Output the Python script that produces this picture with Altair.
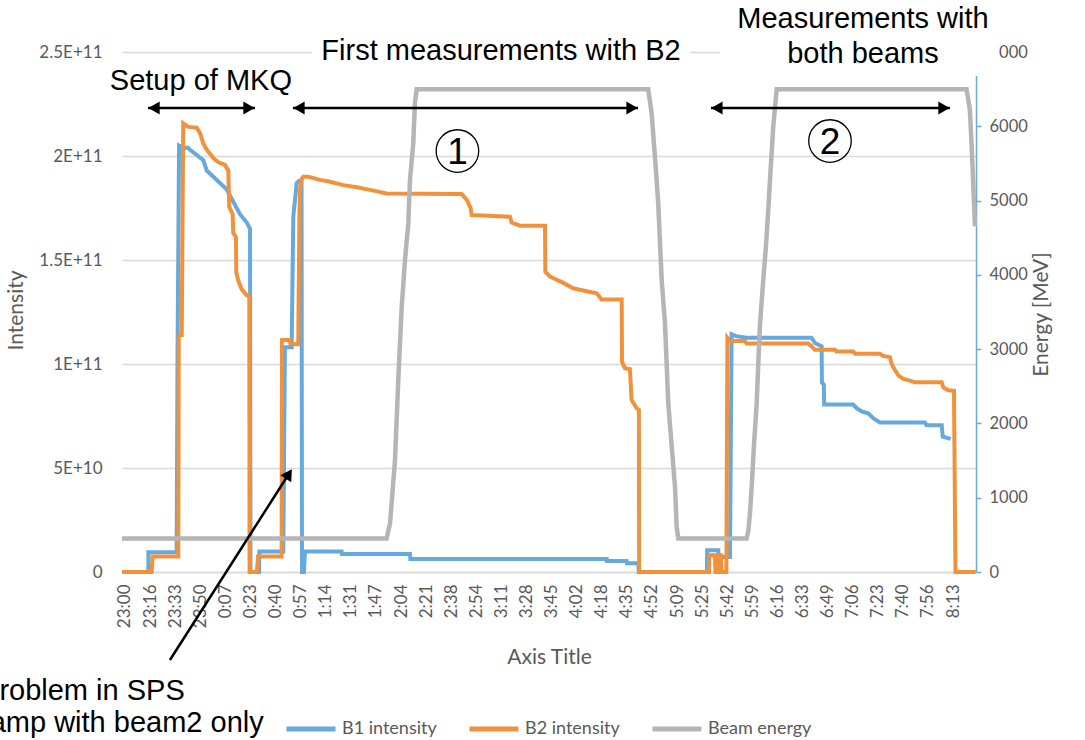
import json

import altair as alt
import pandas as pd

# ---------------------------------------------------------------- axes / text
TICK_LABELS = [
    "23:00", "23:16", "23:33", "23:50", "0:07", "0:23", "0:40", "0:57",
    "1:14", "1:31", "1:47", "2:04", "2:21", "2:38", "2:54", "3:11", "3:28",
    "3:45", "4:02", "4:18", "4:35", "4:52", "5:09", "5:25", "5:42", "5:59",
    "6:16", "6:33", "6:49", "7:06", "7:23", "7:40", "7:56", "8:13",
]
TICK_STEP = 553 / 33                      # minutes between category labels
INTENSITY_TICKS = [0, 5e10, 1e11, 1.5e11, 2e11, 2.5e11]
INTENSITY_LABELS = ["0", "5E+10", "1E+11", "1.5E+11", "2E+11", "2.5E+11"]
ENERGY_TICKS = [0, 1000, 2000, 3000, 4000, 5000, 6000, 7000]

SERIES = ["B1 intensity", "B2 intensity", "Beam energy"]
COLORS = ["#65A9DD", "#F2913B", "#B5B5B5"]
AXIS_TEXT = "#595959"
GRID = "#D9D9D9"

# ---------------------------------------------------------------- data
# time in minutes after 23:00, intensity in units of 1e10 protons
b1_minutes = [
    -2.0, 15.6, 15.6, 34.5, 35.1, 36.1, 38.7, 42.1, 43.4, 47.9, 52.3, 54.6,
    59.0, 63.4, 67.9, 72.3, 76.8, 81.3, 83.5, 83.8, 89.5, 89.7, 105.7, 106.8,
    111.3, 112.4, 114.7, 116.2, 117.9, 118.2, 119.5, 120.2, 144.7, 144.9,
    190.3, 190.6, 321.7, 321.8, 335.0, 335.2, 342.8, 343.1, 388.6, 388.8,
    396.2, 396.4, 404.0, 405.1, 408.0, 415.1, 458.5, 460.7, 465.2, 465.4,
    466.7, 466.9, 486.3, 488.6, 491.9, 496.3, 499.7, 504.1, 534.2, 535.3,
    545.4, 546.1, 551.4,
]
b1_e10 = [
    0, 0, 0.95, 0.95, 10.6, 20.5, 20.4, 20.4, 20.3, 20.05, 19.8, 19.3,
    19.0, 18.7, 18.4, 17.8, 17.2, 16.8, 16.5, 0, 0, 0.98, 0.98, 10.8,
    10.8, 17.1, 18.7, 18.8, 18.8, 0, 0, 0.98, 0.98, 0.87,
    0.87, 0.62, 0.62, 0.53, 0.53, 0.42, 0.42, 0, 0, 1.04,
    1.04, 0.72, 0.72, 11.43, 11.34, 11.26, 11.26, 11.01, 10.85, 9.12,
    9.0, 8.05, 8.05, 7.88, 7.72, 7.63, 7.39, 7.19, 7.19, 7.06,
    7.06, 6.51, 6.4,
]

b2_minutes = [
    -2.0, 17.8, 18.4, 35.6, 35.9, 37.9, 38.9, 40.1, 42.3, 47.9, 50.1, 52.3,
    54.6, 59.0, 62.3, 66.8, 69.0, 69.6, 71.9, 72.3, 74.1, 74.3, 75.7, 77.9,
    81.3, 83.0, 83.2, 88.1, 88.8, 104.6, 104.8, 110.2, 110.5, 115.7, 116.5,
    116.9, 117.9, 119.1, 122.4, 130.2, 136.9, 145.8, 154.7, 163.6, 174.7,
    224.8, 228.2, 230.8, 231.5, 257.1, 258.2, 263.8, 280.5, 280.7, 283.8,
    292.7, 299.3, 308.3, 315.0, 318.3, 331.7, 331.9, 333.9, 337.2, 338.3,
    341.7, 343.2, 343.4, 390.0, 390.2, 394.0, 394.3, 396.0, 396.3, 398.0,
    398.3, 401.6, 402.3, 404.0, 414.0, 415.1, 456.3, 458.5, 460.7, 474.1,
    475.2, 486.3, 487.5, 504.1, 506.3, 510.8, 511.9, 513.0, 516.4, 519.7,
    524.2, 527.5, 545.4, 546.5, 549.7, 553.6, 554.6, 568.2,
]
b2_e10 = [
    0, 0, 0.74, 0.74, 11.4, 11.4, 21.57, 21.5, 21.4, 21.36, 21.1, 20.6,
    20.3, 19.9, 19.7, 19.57, 19.3, 17.56, 17.2, 16.3, 16.1, 14.4, 14.0, 13.6,
    13.3, 13.25, 0, 0, 0.74, 0.74, 11.15, 11.15, 10.95, 10.95, 17.2,
    18.4, 18.9, 19.0, 19.0, 18.85, 18.76, 18.6, 18.5, 18.37, 18.2,
    18.17, 17.9, 17.5, 17.16, 17.08, 16.8, 16.65, 16.65, 14.44, 14.2,
    13.9, 13.64, 13.5, 13.4, 13.1, 13.1, 10.1, 9.8, 9.75, 8.27,
    7.87, 7.8, 0, 0, 0.8, 0.8, 0, 0, 0.8, 0.8,
    0, 0, 11.26, 11.1, 11.1, 10.98, 10.98, 10.85, 10.68, 10.68,
    10.6, 10.6, 10.49, 10.49, 10.39, 10.33, 10.02, 9.85, 9.45, 9.28,
    9.2, 9.12, 9.12, 8.87, 8.74, 8.71, 0, 0,
]

energy_minutes = [
    -2.0, 174.7, 177.0, 180.3, 182.5, 184.8, 187.0, 189.2, 190.3, 192.5,
    193.6, 194.8, 349.4, 351.7, 353.9, 356.1, 357.2, 358.4, 360.6, 361.7,
    362.8, 365.1, 367.3, 368.4, 369.5, 415.1, 416.2, 417.3, 418.5, 420.0,
    421.8, 422.9, 424.0, 425.8, 428.0, 429.6, 431.2, 432.9, 435.2, 562.0,
    564.2, 565.4, 566.4, 567.6,
]
energy_mev = [
    450, 450, 655, 1507, 2584, 3571, 4200, 4693, 5276, 5770,
    6309, 6500, 6500, 6174, 5590, 4963, 4469, 3930, 3348, 2809,
    2271, 1687, 1148, 610, 450, 450, 545, 775, 1145, 1699,
    2253, 2806, 3314, 3822, 4376, 4884, 5438, 5992, 6500, 6500,
    6222, 5738, 5253, 4653,
]


def series_frame(minutes, values, name, factor=1.0):
    return pd.DataFrame({
        "i": range(len(minutes)),
        "minutes": minutes,
        "value": [v * factor for v in values],
        "series": name,
    })


b1_df = series_frame(b1_minutes, b1_e10, SERIES[0], 1e10)
b2_df = series_frame(b2_minutes, b2_e10, SERIES[1], 1e10)
energy_df = series_frame(energy_minutes, energy_mev, SERIES[2])

# ---------------------------------------------------------------- annotations
# positions in chart units: minutes after 23:00, intensity (protons)
heading_df = pd.DataFrame({
    "text": ["Setup of MKQ", "First measurements with B2",
             "Measurements with", "both beams"],
    "minutes": [50.7, 251.1, 492.8, 492.8],
    "value": [2.317e11, 2.4615e11, 2.613e11, 2.447e11],
})
note_df = pd.DataFrame({
    "text": ["Problem in SPS", "ramp with beam2 only"],
    "minutes": [-96.8, -96.8],
    "value": [-6.154e10, -7.692e10],
})
box_df = pd.DataFrame({
    "x0": [124.9, 397.3], "x1": [377.3, 583.5],
    "y0": [2.4327e11, 2.385e11], "y1": [2.577e11, 2.75e11],
})
arrow_df = pd.DataFrame({
    "x0": [15.4, 112.2, 391.3, 30.0],
    "x1": [86.8, 342.6, 550.9, 109.4],
    "y0": [2.2308e11, 2.2308e11, 2.2308e11, -4.231e10],
    "y1": [2.2308e11, 2.2308e11, 2.2308e11, 4.712e10],
})
head_df = pd.DataFrame({
    "minutes": [19.4, 82.8, 116.2, 338.6, 395.3, 546.9, 109.4],
    "value": [2.2308e11] * 6 + [4.712e10],
    "shape": ["triangle-left", "triangle-right"] * 3 + ["triangle-up"],
    "angle": [0, 0, 0, 0, 0, 0, 33],
})
circle_df = pd.DataFrame({
    "label": ["1", "2"],
    "minutes": [222.0, 470.8],
    "value": [2.024e11, 2.072e11],
    "baseline_value": [1.9615e11, 2.0096e11],
})

# ---------------------------------------------------------------- scales
x_scale = alt.Scale(domain=[-2.0, 568.3], nice=False, zero=False)
left_scale = alt.Scale(domain=[0, 2.5e11], nice=False, zero=False)
right_scale = alt.Scale(domain=[0, 7000], nice=False, zero=False)
color_scale = alt.Scale(domain=SERIES, range=COLORS)

x_axis = alt.Axis(
    values=[i * TICK_STEP for i in range(len(TICK_LABELS))],
    labelExpr=f"{json.dumps(TICK_LABELS)}[round(datum.value / {TICK_STEP})]",
    labelAngle=270, labelAlign="right", labelBaseline="middle",
    labelPadding=12, labelOverlap=False, labelFlush=False,
    labelFont="Lato", labelFontSize=17, labelColor=AXIS_TEXT,
    ticks=False, tickSize=0, grid=False,
    domainColor=GRID, domainWidth=1.5,
    title="Axis Title", titleFont="Lato", titleFontSize=21,
    titleFontWeight="normal", titleColor=AXIS_TEXT,
    titleY=85, titleBaseline="middle",
)
left_axis = alt.Axis(
    values=INTENSITY_TICKS,
    labelExpr=f"{json.dumps(INTENSITY_LABELS)}[round(datum.value / 5e10)]",
    domain=False, ticks=False, tickSize=0, labelPadding=20,
    grid=True, gridColor=GRID, gridWidth=1.5,
    labelFont="Lato", labelFontSize=17, labelColor=AXIS_TEXT,
    title="Intensity", titleFont="Lato", titleFontSize=21,
    titleFontWeight="normal", titleColor=AXIS_TEXT,
    titleAngle=270, titleX=-106, titleY=258, titleBaseline="middle",
)
right_axis = alt.Axis(
    orient="right", values=ENERGY_TICKS, format="d",
    domainColor=COLORS[0], domainWidth=1.5,
    tickColor=COLORS[0], tickSize=5, tickWidth=1.5, labelPadding=8,
    grid=False,
    labelFont="Lato", labelFontSize=16.5, labelColor=AXIS_TEXT,
    title="Energy [MeV]", titleFont="Lato", titleFontSize=21,
    titleFontWeight="normal", titleColor=AXIS_TEXT,
    titleAngle=270, titleX=65, titleY=262, titleBaseline="middle",
)

color = alt.Color("series:N", scale=color_scale, legend=alt.Legend(title=None))
X = alt.X("minutes:Q", scale=x_scale, axis=x_axis)

# ---------------------------------------------------------------- layers
b1_line = alt.Chart(b1_df).mark_line(strokeWidth=4).encode(
    x=X, y=alt.Y("value:Q", scale=left_scale, axis=left_axis),
    color=color, order="i:Q",
)
b2_line = alt.Chart(b2_df).mark_line(strokeWidth=4).encode(
    x=X, y=alt.Y("value:Q", scale=left_scale, axis=left_axis),
    color=color, order="i:Q",
)
intensity = alt.layer(b1_line, b2_line)

energy = alt.Chart(energy_df).mark_line(strokeWidth=4.5).encode(
    x=X, y=alt.Y("value:Q", scale=right_scale, axis=right_axis),
    color=color, order="i:Q",
)

Y_ann = alt.Y("value:Q", scale=left_scale, axis=None)
font = "Liberation Sans"

boxes = alt.Chart(box_df).mark_rect(color="white").encode(
    x=alt.X("x0:Q", scale=x_scale, axis=x_axis), x2="x1:Q",
    y=alt.Y("y0:Q", scale=left_scale, axis=None), y2="y1:Q",
)
headings = alt.Chart(heading_df).mark_text(
    font=font, fontSize=29, align="center", baseline="alphabetic", color="black"
).encode(x=X, y=Y_ann, text="text:N")
notes = alt.Chart(note_df).mark_text(
    font=font, fontSize=29, align="left", baseline="alphabetic", color="black"
).encode(x=X, y=Y_ann, text="text:N")
arrows = alt.Chart(arrow_df).mark_rule(color="black", strokeWidth=2.5).encode(
    x=alt.X("x0:Q", scale=x_scale, axis=x_axis), x2="x1:Q",
    y=alt.Y("y0:Q", scale=left_scale, axis=None), y2="y1:Q",
)
heads = alt.Chart(head_df).mark_point(
    filled=True, color="black", size=170, opacity=1
).encode(
    x=X, y=Y_ann,
    shape=alt.Shape("shape:N", scale=None),
    angle=alt.Angle("angle:Q", scale=None),
)
circles = alt.Chart(circle_df).mark_point(
    shape="circle", size=1810, filled=False, color="black", strokeWidth=1.3,
    opacity=1,
).encode(x=X, y=Y_ann)
digits = alt.Chart(circle_df).mark_text(
    font=font, fontSize=37, align="center", baseline="alphabetic", color="black"
).encode(
    x=X, y=alt.Y("baseline_value:Q", scale=left_scale, axis=None), text="label:N"
)
annotations = alt.layer(boxes, headings, notes, arrows, heads, circles, digits)

chart = (
    alt.layer(intensity, energy, annotations)
    .resolve_scale(y="independent")
    .properties(
        width=854, height=520,
        autosize=alt.AutoSizeParams(type="none"),
        padding={"left": 122, "top": 52, "right": 109, "bottom": 168},
        background="white",
    )
    .configure_view(stroke=None)
    .configure_legend(
        orient="none", legendX=162, legendY=650, direction="horizontal",
        symbolType="stroke", symbolStrokeWidth=5, symbolSize=2401,
        labelFont="Lato", labelFontSize=18, labelColor=AXIS_TEXT,
        columnPadding=22, labelOffset=4, padding=0,
    )
)

chart.save("out.html", embed_options={"renderer": "svg", "actions": False})
